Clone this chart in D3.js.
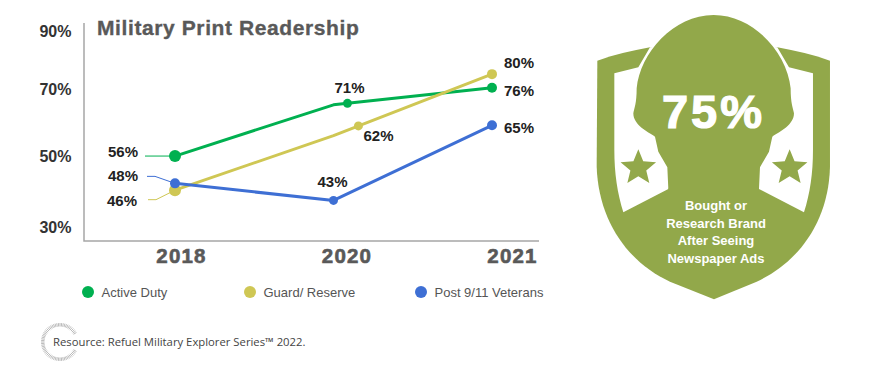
<!DOCTYPE html>
<html>
<head>
<meta charset="utf-8">
<script src="https://cdn.jsdelivr.net/npm/d3@7"></script>
<style>
  html, body { margin: 0; padding: 0; background: #fff; }
  svg { display: block; font-family: "Liberation Sans", Arial, sans-serif; }
</style>
</head>
<body>
<div id="view"></div>
<script>
const years = ["2018", "2020", "2021"];
const yTicks = [90, 70, 50, 30];
const activeDuty = [56, 71, 76];
const guardReserve = [46, 62, 80];
const veterans = [48, 43, 65];
const seriesNames = ["Active Duty", "Guard/ Reserve", "Post 9/11 Veterans"];
const seriesColors = ["#00b050", "#cfc754", "#3e6fd4"];
const calloutLines = ["Bought or", "Research Brand", "After Seeing", "Newspaper Ads"];

const W = 873, H = 368;
const svg = d3.select("#view").append("svg").attr("width", W).attr("height", H);

const x = d3.scalePoint().domain(years).range([175, 492]);
const y = d3.scaleLinear().domain([30, 90]).range([244.8, 40]);

// the tick and year labels in the picture do not sit on the data scale
const yLabelPos = d3.scaleLinear().domain([30, 50, 70, 90]).range([227, 156, 89, 31]);
const xLabelPos = d3.scalePoint().domain(years).range([181, 512]);

const ink = "#222", grey = "#595959";

// title
svg.append("text").attr("x", 97).attr("y", 35)
  .attr("font-size", 21).attr("letter-spacing", 0.6).attr("font-weight", "bold").attr("fill", grey)
  .attr("stroke", grey).attr("stroke-width", 0.35)
  .text("Military Print Readership");

// axis frame
svg.append("path")
  .attr("d", d3.line()([[84, 23], [84, 241], [539, 241]]))
  .attr("fill", "none").attr("stroke", "#a6a6a6").attr("stroke-width", 1.5);

// y labels
const yAxis = svg.append("g").attr("transform", "translate(71.5,0)")
  .call(d3.axisLeft(yLabelPos).tickValues(yTicks).tickSize(0).tickPadding(0).tickFormat(d => d + "%"));
yAxis.select(".domain").remove();
yAxis.selectAll("text").attr("font-family", "Liberation Sans").attr("font-size", 16)
  .attr("font-weight", "bold").attr("fill", "#333");

// x labels
const xAxis = svg.append("g").attr("transform", "translate(0,248.4)")
  .call(d3.axisBottom(xLabelPos).tickSize(0).tickPadding(0));
xAxis.select(".domain").remove();
xAxis.selectAll("text").attr("font-family", "Liberation Sans").attr("font-size", 20.5)
  .attr("letter-spacing", 1.2).attr("font-weight", "bold").attr("fill", grey)
  .attr("stroke", grey).attr("stroke-width", 0.6);

// one entry per series: leader from the 2018 label, marker slide along a segment, label offsets
const series = [
  { values: activeDuty, color: seriesColors[0], r0: 6,
    leader: [[-30, 0], [0, 0]], slide: 14 / 159, label: [[-67, 1], [1, -12], [12, 8]] },
  { values: guardReserve, color: seriesColors[1], r0: 6,
    leader: [[-27, 9.5], [-19, 9.5], [0, 0]], slide: 25 / 159, label: [[-68, 16], [30, 5.5], [12, -6]] },
  { values: veterans, color: seriesColors[2], r0: 5,
    leader: [[-28, -7], [-20, -7], [0, 0]], slide: 0, label: [[-67, -2], [-16, -13.5], [12, 7.5]] }
];

const line = d3.line().x((d, i) => x(years[i])).y(d => y(d));

series.forEach(s => {
  const g = svg.append("g");
  const x0 = x(years[0]), y0 = y(s.values[0]);

  g.append("path")
    .attr("d", d3.line()(s.leader.map(p => [x0 + p[0], y0 + p[1]])))
    .attr("fill", "none").attr("stroke", s.color).attr("stroke-width", 1);

  g.append("path").attr("d", line(s.values))
    .attr("fill", "none").attr("stroke", s.color).attr("stroke-width", 3)
    .attr("stroke-linejoin", "round");

  const mx = x(years[1]) + s.slide * (x(years[2]) - x(years[1]));
  const my = y(s.values[1]) + s.slide * (y(s.values[2]) - y(s.values[1]));
  const pts = [[x0, y0, s.r0], [mx, my, 4.5], [x(years[2]), y(s.values[2]), 5]];

  g.selectAll("circle").data(pts).join("circle")
    .attr("cx", d => d[0]).attr("cy", d => d[1]).attr("r", d => d[2])
    .attr("fill", s.color);
});

// value labels
series.forEach(s => {
  svg.append("g").selectAll("text").data(s.values).join("text")
    .attr("x", (d, i) => x(years[i]) + s.label[i][0])
    .attr("y", (d, i) => y(d) + s.label[i][1])
    .attr("font-size", 15).attr("font-weight", "bold").attr("fill", ink)
    .text(d => d + "%");
});

// legend
const legendDot = [88, 250, 421];
const legend = svg.append("g").selectAll("g").data(seriesNames).join("g")
  .attr("transform", (d, i) => `translate(${legendDot[i]},292)`);
legend.append("circle").attr("r", 6).attr("fill", (d, i) => seriesColors[i]);
legend.append("text").attr("x", 13.5).attr("y", 5)
  .attr("font-size", 13).attr("fill", "#555").text(d => d);

// source line with its tick ring
const ring = svg.append("g").attr("transform", "translate(60,342)");
ring.selectAll("line")
  .data(d3.range(30, 331, 5))
  .join("line")
  .attr("x1", d => 15.5 * Math.cos(d * Math.PI / 180))
  .attr("y1", d => 15.5 * Math.sin(d * Math.PI / 180))
  .attr("x2", d => 19 * Math.cos(d * Math.PI / 180))
  .attr("y2", d => 19 * Math.sin(d * Math.PI / 180))
  .attr("stroke", "#b3b3b3").attr("stroke-width", 0.9);
svg.append("text").attr("x", 53).attr("y", 346)
  .attr("font-family", "Open Sans").attr("font-size", 11.3).attr("fill", "#444")
  .text("Resource: Refuel Military Explorer Series™ 2022.");

// shield badge, path drawn in 3x units from its corner
const olive = "#92a84a";
const badge = svg.append("g").attr("transform", "translate(590,10) scale(0.3333)");

badge.append("path").attr("fill", olive).attr("d",
  "M22,152 C70,135 125,122 180,112 L562,112 C617,122 672,135 720,152 " +
  "L720,470 C716,640 620,760 500,815 L372,868 L240,815 C120,760 26,640 20,470 Z");

const leftPanel = "M73,190 L145,172 L180,112 L300,100 L300,400 L235,537 L100,607 C82,550 73,490 73,420 Z";
badge.append("path").attr("fill", "#fff").attr("d", leftPanel);
badge.append("path").attr("fill", "#fff").attr("d", leftPanel)
  .attr("transform", "translate(742,0) scale(-1,1)");

const helmetTop = "M130,310 C133,295 140,280 140,235 C150,130 250,15 371,15 " +
  "C492,15 592,130 602,235 C602,280 609,295 612,310";
badge.append("path").attr("fill", olive).attr("d",
  helmetTop +
  " C612,345 570,365 547,380 L537,425 L510,472 L507,537 L235,537 L232,472 L205,425 L195,380" +
  " C172,365 130,345 130,310 Z");

// five pointed star, a bit fuller than d3.symbolStar
const starPath = d3.lineRadial().curve(d3.curveLinearClosed)(
  d3.range(10).map(i => [i * Math.PI / 5, i % 2 ? 25 : 56])
);
[145, 599].forEach(cx => {
  badge.append("path")
    .attr("d", starPath)
    .attr("transform", `translate(${cx},474)`)
    .attr("fill", olive);
});

svg.append("text").attr("x", 713.5).attr("y", 128).attr("text-anchor", "middle")
  .attr("font-size", 47).attr("letter-spacing", 3).attr("font-weight", "bold").attr("fill", "#fff")
  .attr("stroke", "#fff").attr("stroke-width", 1.2).text("75%");

svg.append("g").selectAll("text").data(calloutLines).join("text")
  .attr("x", 716).attr("y", (d, i) => 210 + i * 17.6).attr("text-anchor", "middle")
  .attr("font-size", 13).attr("font-weight", "bold").attr("fill", "#fff").text(d => d);
</script>
</body>
</html>
